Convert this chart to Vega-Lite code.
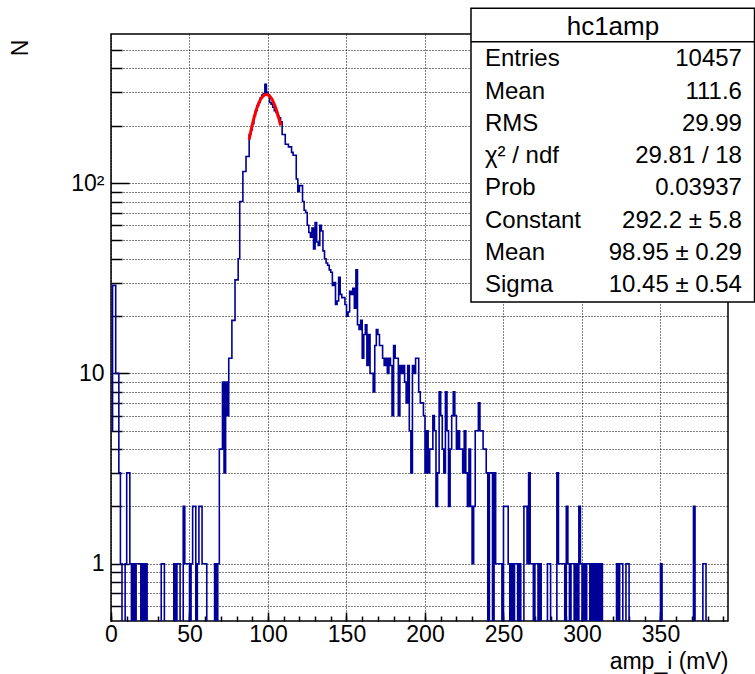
{
  "$schema": "https://vega.github.io/schema/vega-lite/v6.json",
  "width": 617,
  "height": 587,
  "autosize": {"type": "none"},
  "padding": {"left": 111, "top": 34, "right": 27, "bottom": 53},
  "background": "white",
  "config": {
    "font": "Liberation Sans",
    "view": {"stroke": "black", "strokeWidth": 1.5},
    "axis": {
      "labelFont": "Liberation Sans",
      "titleFont": "Liberation Sans",
      "labelFontSize": 23,
      "titleFontSize": 23,
      "labelColor": "black",
      "titleColor": "black",
      "titleFontWeight": "normal",
      "domain": false,
      "tickColor": "black",
      "tickWidth": 1.5,
      "gridColor": "black",
      "gridDash": [1, 2],
      "gridWidth": 1
    }
  },
  "datasets": {
    "hist": [
      {"x":0,"n":5},{"x":1,"n":29},{"x":2,"n":29},{"x":3,"n":10},{"x":4,"n":10},{"x":5,"n":3},{"x":6,"n":1},{"x":7,"n":0},{"x":8,"n":0},{"x":9,"n":1},
      {"x":10,"n":3},{"x":11,"n":3},{"x":12,"n":1},{"x":13,"n":0},{"x":14,"n":1},{"x":15,"n":0},{"x":16,"n":1},{"x":17,"n":1},{"x":18,"n":1},{"x":19,"n":0},
      {"x":20,"n":1},{"x":21,"n":0},{"x":22,"n":1},{"x":23,"n":0},{"x":24,"n":0},{"x":25,"n":0},{"x":26,"n":0},{"x":27,"n":0},{"x":28,"n":0},{"x":29,"n":0},
      {"x":30,"n":0},{"x":31,"n":0},{"x":32,"n":1},{"x":33,"n":1},{"x":34,"n":0},{"x":35,"n":0},{"x":36,"n":0},{"x":37,"n":0},{"x":38,"n":0},{"x":39,"n":0},
      {"x":40,"n":1},{"x":41,"n":0},{"x":42,"n":1},{"x":43,"n":1},{"x":44,"n":0},{"x":45,"n":0},{"x":46,"n":2},{"x":47,"n":1},{"x":48,"n":1},{"x":49,"n":1},
      {"x":50,"n":0},{"x":51,"n":1},{"x":52,"n":2},{"x":53,"n":2},{"x":54,"n":0},{"x":55,"n":1},{"x":56,"n":2},{"x":57,"n":2},{"x":58,"n":1},{"x":59,"n":1},
      {"x":60,"n":1},{"x":61,"n":0},{"x":62,"n":0},{"x":63,"n":0},{"x":64,"n":0},{"x":65,"n":0},{"x":66,"n":1},{"x":67,"n":0},{"x":68,"n":1},{"x":69,"n":4},
      {"x":70,"n":4},{"x":71,"n":9},{"x":72,"n":3},{"x":73,"n":9},{"x":74,"n":6},{"x":75,"n":12},{"x":76,"n":12},{"x":77,"n":19},{"x":78,"n":19},{"x":79,"n":31},
      {"x":80,"n":31},{"x":81,"n":40},{"x":82,"n":80},{"x":83,"n":80},{"x":84,"n":115},{"x":85,"n":115},{"x":86,"n":138},{"x":87,"n":138},{"x":88,"n":180},{"x":89,"n":190},
      {"x":90,"n":205},{"x":91,"n":225},{"x":92,"n":240},{"x":93,"n":255},{"x":94,"n":265},{"x":95,"n":280},{"x":96,"n":290},{"x":97,"n":295},{"x":98,"n":330},{"x":99,"n":300},
      {"x":100,"n":290},{"x":101,"n":265},{"x":102,"n":260},{"x":103,"n":250},{"x":104,"n":240},{"x":105,"n":235},{"x":106,"n":225},{"x":107,"n":220},{"x":108,"n":210},{"x":109,"n":180},
      {"x":110,"n":180},{"x":111,"n":160},{"x":112,"n":160},{"x":113,"n":155},{"x":114,"n":155},{"x":115,"n":145},{"x":116,"n":140},{"x":117,"n":140},{"x":118,"n":105},{"x":119,"n":90},
      {"x":120,"n":97},{"x":121,"n":97},{"x":122,"n":80},{"x":123,"n":72},{"x":124,"n":70},{"x":125,"n":60},{"x":126,"n":55},{"x":127,"n":52},{"x":128,"n":58},{"x":129,"n":45},
      {"x":130,"n":62},{"x":131,"n":49},{"x":132,"n":47},{"x":133,"n":60},{"x":134,"n":56},{"x":135,"n":44},{"x":136,"n":40},{"x":137,"n":38},{"x":138,"n":37},{"x":139,"n":35},
      {"x":140,"n":34},{"x":141,"n":29},{"x":142,"n":30},{"x":143,"n":23},{"x":144,"n":24},{"x":145,"n":32},{"x":146,"n":26},{"x":147,"n":25},{"x":148,"n":25},{"x":149,"n":23},
      {"x":150,"n":20},{"x":151,"n":21},{"x":152,"n":27},{"x":153,"n":26},{"x":154,"n":28},{"x":155,"n":22},{"x":156,"n":35},{"x":157,"n":18},{"x":158,"n":17},{"x":159,"n":19},
      {"x":160,"n":12},{"x":161,"n":16},{"x":162,"n":18},{"x":163,"n":11},{"x":164,"n":16},{"x":165,"n":10},{"x":166,"n":10},{"x":167,"n":8},{"x":168,"n":14},{"x":169,"n":17},
      {"x":170,"n":16},{"x":171,"n":14},{"x":172,"n":14},{"x":173,"n":12},{"x":174,"n":11},{"x":175,"n":12},{"x":176,"n":10},{"x":177,"n":12},{"x":178,"n":11},{"x":179,"n":6},
      {"x":180,"n":14},{"x":181,"n":12},{"x":182,"n":12},{"x":183,"n":6},{"x":184,"n":11},{"x":185,"n":10},{"x":186,"n":11},{"x":187,"n":9},{"x":188,"n":7},{"x":189,"n":11},
      {"x":190,"n":5},{"x":191,"n":3},{"x":192,"n":11},{"x":193,"n":10},{"x":194,"n":12},{"x":195,"n":12},{"x":196,"n":8},{"x":197,"n":7},{"x":198,"n":7},{"x":199,"n":6},
      {"x":200,"n":3},{"x":201,"n":5},{"x":202,"n":3},{"x":203,"n":4},{"x":204,"n":4},{"x":205,"n":6},{"x":206,"n":5},{"x":207,"n":2},{"x":208,"n":3},{"x":209,"n":8},
      {"x":210,"n":6},{"x":211,"n":4},{"x":212,"n":3},{"x":213,"n":8},{"x":214,"n":5},{"x":215,"n":2},{"x":216,"n":4},{"x":217,"n":6},{"x":218,"n":8},{"x":219,"n":6},
      {"x":220,"n":4},{"x":221,"n":5},{"x":222,"n":4},{"x":223,"n":4},{"x":224,"n":3},{"x":225,"n":5},{"x":226,"n":3},{"x":227,"n":2},{"x":228,"n":4},{"x":229,"n":2},
      {"x":230,"n":1},{"x":231,"n":2},{"x":232,"n":5},{"x":233,"n":5},{"x":234,"n":7},{"x":235,"n":5},{"x":236,"n":5},{"x":237,"n":4},{"x":238,"n":4},{"x":239,"n":3},
      {"x":240,"n":0},{"x":241,"n":3},{"x":242,"n":3},{"x":243,"n":0},{"x":244,"n":3},{"x":245,"n":1},{"x":246,"n":1},{"x":247,"n":1},{"x":248,"n":1},{"x":249,"n":0},
      {"x":250,"n":2},{"x":251,"n":2},{"x":252,"n":2},{"x":253,"n":1},{"x":254,"n":0},{"x":255,"n":1},{"x":256,"n":0},{"x":257,"n":1},{"x":258,"n":1},{"x":259,"n":0},
      {"x":260,"n":1},{"x":261,"n":0},{"x":262,"n":0},{"x":263,"n":2},{"x":264,"n":2},{"x":265,"n":1},{"x":266,"n":3},{"x":267,"n":1},{"x":268,"n":1},{"x":269,"n":0},
      {"x":270,"n":1},{"x":271,"n":1},{"x":272,"n":0},{"x":273,"n":1},{"x":274,"n":0},{"x":275,"n":0},{"x":276,"n":0},{"x":277,"n":0},{"x":278,"n":1},{"x":279,"n":1},
      {"x":280,"n":0},{"x":281,"n":0},{"x":282,"n":0},{"x":283,"n":0},{"x":284,"n":3},{"x":285,"n":1},{"x":286,"n":1},{"x":287,"n":1},{"x":288,"n":1},{"x":289,"n":0},
      {"x":290,"n":2},{"x":291,"n":1},{"x":292,"n":0},{"x":293,"n":1},{"x":294,"n":1},{"x":295,"n":0},{"x":296,"n":1},{"x":297,"n":0},{"x":298,"n":2},{"x":299,"n":1},
      {"x":300,"n":0},{"x":301,"n":1},{"x":302,"n":0},{"x":303,"n":1},{"x":304,"n":1},{"x":305,"n":0},{"x":306,"n":1},{"x":307,"n":0},{"x":308,"n":1},{"x":309,"n":0},
      {"x":310,"n":1},{"x":311,"n":0},{"x":312,"n":1},{"x":313,"n":0},{"x":314,"n":0},{"x":315,"n":0},{"x":316,"n":0},{"x":317,"n":0},{"x":318,"n":0},{"x":319,"n":0},
      {"x":320,"n":0},{"x":321,"n":0},{"x":322,"n":1},{"x":323,"n":0},{"x":324,"n":1},{"x":325,"n":1},{"x":326,"n":0},{"x":327,"n":0},{"x":328,"n":1},{"x":329,"n":1},
      {"x":330,"n":0},{"x":331,"n":0},{"x":332,"n":0},{"x":333,"n":0},{"x":334,"n":0},{"x":335,"n":0},{"x":336,"n":0},{"x":337,"n":0},{"x":338,"n":0},{"x":339,"n":0},
      {"x":340,"n":0},{"x":341,"n":0},{"x":342,"n":0},{"x":343,"n":0},{"x":344,"n":0},{"x":345,"n":0},{"x":346,"n":0},{"x":347,"n":0},{"x":348,"n":0},{"x":349,"n":0},
      {"x":350,"n":1},{"x":351,"n":0},{"x":352,"n":0},{"x":353,"n":0},{"x":354,"n":0},{"x":355,"n":0},{"x":356,"n":0},{"x":357,"n":0},{"x":358,"n":0},{"x":359,"n":0},
      {"x":360,"n":0},{"x":361,"n":0},{"x":362,"n":0},{"x":363,"n":0},{"x":364,"n":0},{"x":365,"n":0},{"x":366,"n":0},{"x":367,"n":0},{"x":368,"n":0},{"x":369,"n":0},
      {"x":370,"n":0},{"x":371,"n":2},{"x":372,"n":0},{"x":373,"n":0},{"x":374,"n":0},{"x":375,"n":0},{"x":376,"n":0},{"x":377,"n":1},{"x":378,"n":1},{"x":379,"n":0},
      {"x":380,"n":0},{"x":381,"n":0},{"x":382,"n":0},{"x":383,"n":0},{"x":384,"n":0},{"x":385,"n":0},{"x":386,"n":0},{"x":387,"n":0},{"x":388,"n":0},{"x":389,"n":0},
      {"x":390,"n":0},{"x":391,"n":0},{"x":392,"n":0}
    ],
    "fit": [
      {"x":88,"f":168.8},{"x":89,"f":185.7},{"x":90,"f":202.5},{"x":91,"f":218.8},{"x":92,"f":234.2},{"x":93,"f":248.5},{"x":94,"f":261.2},
      {"x":95,"f":272.1},{"x":96,"f":280.8},{"x":97,"f":287.1},{"x":98,"f":291.0},{"x":99,"f":292.2},{"x":100,"f":290.7},{"x":101,"f":286.6},
      {"x":102,"f":280.0},{"x":103,"f":271.1},{"x":104,"f":260.0},{"x":105,"f":247.1},{"x":106,"f":232.7},{"x":107,"f":217.2},{"x":108,"f":200.8}
    ],
    "stats": [
      {"row":1,"label":"Entries","value":"10457"},
      {"row":2,"label":"Mean","value":"111.6"},
      {"row":3,"label":"RMS","value":"29.99"},
      {"row":4,"label":"χ² / ndf","value":"29.81 / 18"},
      {"row":5,"label":"Prob","value":"0.03937"},
      {"row":6,"label":"Constant","value":"292.2 ± 5.8"},
      {"row":7,"label":"Mean","value":"98.95 ± 0.29"},
      {"row":8,"label":"Sigma","value":"10.45 ± 0.54"}
    ],
    "header": [{"row":0,"label":"hc1amp"}],
    "one": [{"row":0}]
  },
  "layer": [
    {
      "layer": [
        {
          "data": {"name": "hist"},
          "transform": [{"calculate": "max(datum.n, 0.1)", "as": "yv"}],
          "mark": {"type": "line", "interpolate": "step-after", "color": "#000099", "strokeWidth": 1.6, "clip": true},
          "encoding": {
            "x": {
              "field": "x", "type": "quantitative",
              "scale": {"domain": [0, 393], "nice": false, "zero": false},
              "axis": {
                "orient": "bottom",
                "title": "amp_i (mV)",
                "titleAnchor": "end",
                "titlePadding": 4,
                "tickCount": 8,
                "labelOverlap": false,
                "labelFlush": false,
                "labelPadding": 11,
                "ticks": true,
                "tickSize": -9,
                "grid": true
              }
            },
            "y": {
              "field": "yv", "type": "quantitative",
              "scale": {"type": "log", "domain": [0.5, 607], "nice": false},
              "axis": {
                "orient": "left",
                "title": "N",
                "titleAnchor": "end",
                "titleY": 5,
                "titlePadding": 38,
                "values": [0.6,0.7,0.8,0.9,1,2,3,4,5,6,7,8,9,10,20,30,40,50,60,70,80,90,100,200,300,400,500],
                "labelExpr": "datum.value === 1 ? '1' : datum.value === 10 ? '10' : datum.value === 100 ? '10²' : ''",
                "labelOverlap": false,
                "labelFlush": false,
                "labelPadding": 25,
                "ticks": true,
                "tickSize": {"condition": {"test": "datum.value === 1 || datum.value === 10 || datum.value === 100", "value": -18}, "value": -11},
                "grid": true
              }
            }
          }
        },
        {
          "data": {"name": "fit"},
          "mark": {"type": "line", "color": "#ff0000", "strokeWidth": 3, "interpolate": "monotone"},
          "encoding": {
            "x": {
              "field": "x", "type": "quantitative",
              "scale": {"domain": [0, 393], "nice": false, "zero": false},
              "axis": {
                "orient": "bottom",
                "title": null,
                "tickCount": 40,
                "labels": false,
                "grid": false,
                "ticks": true,
                "tickSize": -5
              }
            },
            "y": {"field": "f", "type": "quantitative", "scale": {"type": "log", "domain": [0.5, 607], "nice": false}}
          }
        }
      ],
      "resolve": {"axis": {"x": "independent"}}
    },
    {
      "layer": [
        {
          "data": {"name": "one"},
          "mark": {"type": "rect", "fill": "white", "stroke": "black", "strokeWidth": 1.5},
          "encoding": {
            "x": {"datum": 229.3, "type": "quantitative", "scale": {"domain": [0, 393], "nice": false, "zero": false}, "axis": null},
            "x2": {"datum": 409.9},
            "y": {"datum": -0.579, "type": "quantitative", "scale": {"domain": [0.217, 18.39], "reverse": true, "nice": false, "zero": false}, "axis": null},
            "y2": {"datum": 8.514}
          }
        },
        {
          "data": {"name": "one"},
          "mark": {"type": "rule", "stroke": "black", "strokeWidth": 1.5},
          "encoding": {
            "x": {"datum": 229.3, "type": "quantitative", "scale": {"domain": [0, 393], "nice": false, "zero": false}, "axis": null},
            "x2": {"datum": 409.9},
            "y": {"datum": 0.455, "type": "quantitative", "scale": {"domain": [0.217, 18.39], "reverse": true, "nice": false, "zero": false}, "axis": null}
          }
        },
        {
          "data": {"name": "header"},
          "mark": {"type": "text", "align": "center", "baseline": "middle", "font": "Liberation Sans", "fontSize": 26, "color": "black"},
          "encoding": {
            "x": {"datum": 319.7, "type": "quantitative", "scale": {"domain": [0, 393], "nice": false, "zero": false}, "axis": null},
            "y": {"field": "row", "type": "quantitative", "scale": {"domain": [0.217, 18.39], "reverse": true, "nice": false, "zero": false}, "axis": null},
            "text": {"field": "label"}
          }
        },
        {
          "data": {"name": "stats"},
          "mark": {"type": "text", "align": "left", "baseline": "middle", "font": "Liberation Sans", "fontSize": 24, "color": "black"},
          "encoding": {
            "x": {"datum": 238.2, "type": "quantitative", "scale": {"domain": [0, 393], "nice": false, "zero": false}, "axis": null},
            "y": {"field": "row", "type": "quantitative", "scale": {"domain": [0.217, 18.39], "reverse": true, "nice": false, "zero": false}, "axis": null},
            "text": {"field": "label"}
          }
        },
        {
          "data": {"name": "stats"},
          "mark": {"type": "text", "align": "right", "baseline": "middle", "font": "Liberation Sans", "fontSize": 24, "color": "black"},
          "encoding": {
            "x": {"datum": 401.9, "type": "quantitative", "scale": {"domain": [0, 393], "nice": false, "zero": false}, "axis": null},
            "y": {"field": "row", "type": "quantitative", "scale": {"domain": [0.217, 18.39], "reverse": true, "nice": false, "zero": false}, "axis": null},
            "text": {"field": "value"}
          }
        }
      ]
    }
  ],
  "resolve": {"scale": {"x": "independent", "y": "independent"}}
}
